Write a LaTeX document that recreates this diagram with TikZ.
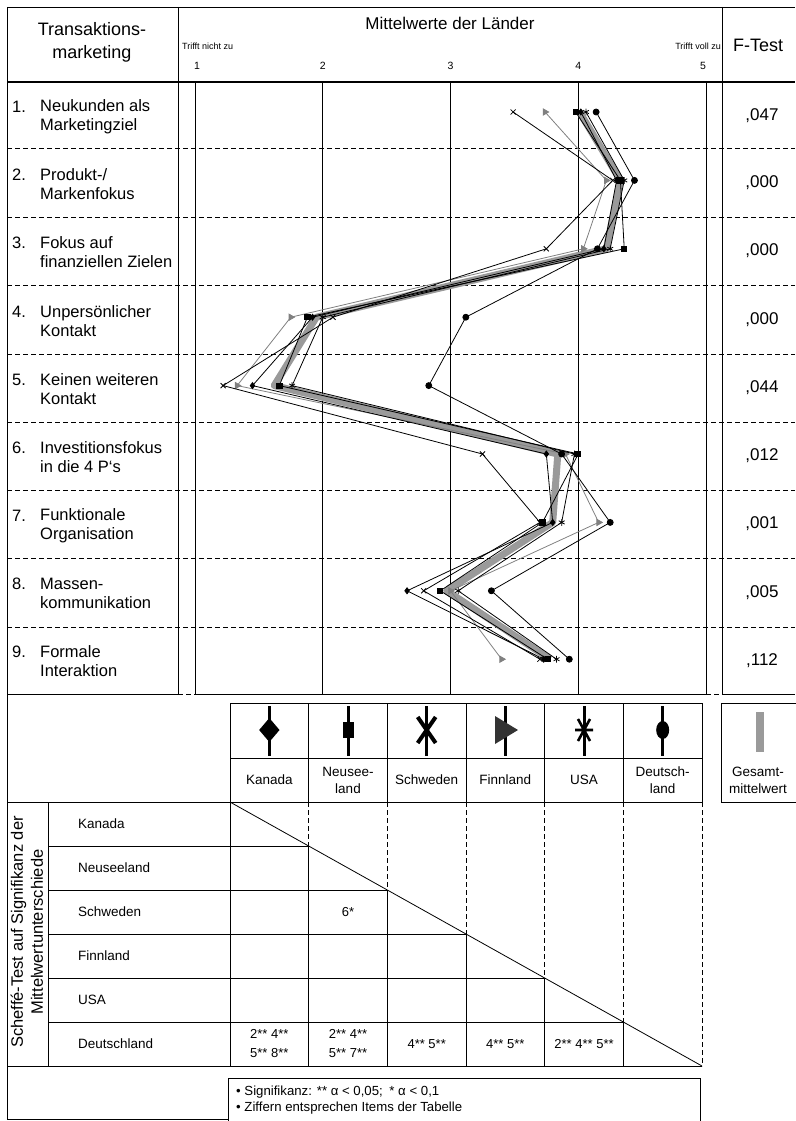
\documentclass[tikz,border=0pt]{standalone}
\usepackage{fontspec}
\setmainfont{Liberation Sans}
\usetikzlibrary{positioning,plotmarks}
\definecolor{colorBand}{HTML}{9A9A9A}
\definecolor{colorFin}{HTML}{808080}

\tikzset{
  frame/.style={line width=0.9pt},
  rowsep/.style={line width=0.9pt, dash pattern=on 5pt off 3pt},
  colsep/.style={line width=0.7pt, dash pattern=on 5pt off 3pt},
  itemtext/.style={anchor=west, align=left, inner sep=0pt, font=\fontsize{16.5}{19}\selectfont},
  itemnum/.style={anchor=west, inner sep=0pt, font=\fontsize{16.5}{19}\selectfont},
  ftest/.style={inner sep=0pt, font=\fontsize{17}{20}\selectfont},
  legtext/.style={align=center, inner sep=0pt, font=\fontsize{13.5}{17}\selectfont},
  rowname/.style={anchor=west, inner sep=0pt, font=\fontsize{13.5}{16}\selectfont},
  celltext/.style={align=center, inner sep=0pt, font=\fontsize{13}{19}\selectfont},
  legline/.style={line width=3pt},
  cline/.style={line width=0.8pt, mark options={solid, fill=black}},
  bandline/.style={line width=7pt, colorBand, line join=round}
}

\begin{document}
\begin{tikzpicture}[x=1pt, y=-1pt]
\useasboundingbox (0,0) rectangle (795,1121);

% header
\draw[frame] (7,7) -- (795,7);
\draw[line width=1.4pt] (7,82) -- (795,82);
\draw[frame] (178,7) -- (178,82);
\draw[frame] (722,7) -- (722,82);
\node[align=center, font=\fontsize{18}{23}\selectfont] (head) at (92,42) {Transaktions-\\marketing};
\node[font=\fontsize{17}{20}\selectfont] (mittel) at (450,23) {Mittelwerte der Länder};
\node[anchor=west, inner sep=0pt, font=\fontsize{9}{10}\selectfont] (nicht) at (182,46) {Trifft nicht zu};
\node[anchor=east, inner sep=0pt, font=\fontsize{9}{10}\selectfont] (voll) at (721,46) {Trifft voll zu};
\foreach \v/\x in {1/197,2/322.75,3/450.5,4/578.25,5/703}
  \node[inner sep=0pt, font=\fontsize{10.5}{12}\selectfont] (tick\v) at (\x,66) {\v};
\node[font=\fontsize{18}{22}\selectfont] (ftitle) at (758,45) {F-Test};

% boxes of the item rows
\draw[frame] (7,7) -- (7,1119);
\draw[frame] (178,82) -- (178,694) -- (7,694);
\draw[frame] (195,82) rectangle (706,694);
\draw[frame] (722,82) -- (722,694) -- (795,694);
\draw[line width=0.7pt] (322.75,82) -- (322.75,694);
\draw[line width=0.7pt] (450.5,82) -- (450.5,694);
\draw[line width=0.7pt] (578.25,82) -- (578.25,694);
\foreach \y in {148,217,285,354,422,490,558,627}
  \draw[rowsep] (7,\y) -- (795,\y);
\draw[rowsep] (178,694) -- (195,694);
\draw[rowsep] (706,694) -- (722,694);

% items
\node[itemnum] (n1) at (12,107) {1.};
\node[itemtext] (i1) at (40,116.5) {Neukunden als\\Marketingziel};
\node[itemnum] (n2) at (12,175) {2.};
\node[itemtext] (i2) at (40,184.5) {Produkt-/\\Markenfokus};
\node[itemnum] (n3) at (12,243) {3.};
\node[itemtext] (i3) at (40,252.5) {Fokus auf\\finanziellen Zielen};
\node[itemnum] (n4) at (12,312) {4.};
\node[itemtext] (i4) at (40,321.5) {Unpersönlicher\\Kontakt};
\node[itemnum] (n5) at (12,380) {5.};
\node[itemtext] (i5) at (40,389.5) {Keinen weiteren\\Kontakt};
\node[itemnum] (n6) at (12,448) {6.};
\node[itemtext] (i6) at (40,457.5) {Investitionsfokus\\in die 4 P`s};
\node[itemnum] (n7) at (12,516) {7.};
\node[itemtext] (i7) at (40,525.5) {Funktionale\\Organisation};
\node[itemnum] (n8) at (12,584) {8.};
\node[itemtext] (i8) at (40,593.5) {Massen-\\kommunikation};
\node[itemnum] (n9) at (12,652) {9.};
\node[itemtext] (i9) at (40,661.5) {Formale\\Interaktion};

% F-Test values
\node[ftest] (f1) at (762,116) {,047};
\node[ftest] (f2) at (762,183) {,000};
\node[ftest] (f3) at (762,251) {,000};
\node[ftest] (f4) at (762,320) {,000};
\node[ftest] (f5) at (762,388) {,044};
\node[ftest] (f6) at (762,456) {,012};
\node[ftest] (f7) at (762,524) {,001};
\node[ftest] (f8) at (762,593) {,005};
\node[ftest] (f9) at (762,661) {,112};

% profile lines (value, item)
\begin{scope}[shift={(67.25,43.6)}, x=127.75pt, y=-68.4pt]
  \draw[bandline] plot coordinates {(4.01,1) (4.33,2) (4.22,3) (1.95,4) (1.62,5) (3.84,6) (3.80,7) (2.97,8) (3.78,9)};
  \draw[cline, colorFin] plot[mark=triangle*, mark size=3.6pt, mark options={rotate=-90, fill=colorFin}]
    coordinates {(3.74,1) (4.22,2) (4.04,3) (1.75,4) (1.33,5) (3.90,6) (4.16,7) (3.00,8) (3.40,9)};
  \draw[cline] plot[mark=diamond*, mark size=3pt]
    coordinates {(4.02,1) (4.30,2) (4.20,3) (1.92,4) (1.45,5) (3.75,6) (3.80,7) (2.66,8) (3.73,9)};
  \draw[cline] plot[mark=square*, mark size=2.6pt]
    coordinates {(3.98,1) (4.33,2) (4.36,3) (1.88,4) (1.66,5) (4.00,6) (3.72,7) (2.92,8) (3.76,9)};
  \draw[cline] plot[mark=x, mark size=3.6pt]
    coordinates {(3.49,1) (4.27,2) (3.75,3) (2.08,4) (1.22,5) (3.25,6) (3.70,7) (2.79,8) (3.70,9)};
  \draw[cline] plot[mark=asterisk, mark size=3.4pt]
    coordinates {(4.06,1) (4.36,2) (4.25,3) (2.00,4) (1.76,5) (3.97,6) (3.87,7) (3.06,8) (3.83,9)};
  \draw[cline] plot[mark=*, mark size=3pt]
    coordinates {(4.14,1) (4.44,2) (4.15,3) (3.12,4) (2.83,5) (3.87,6) (4.25,7) (3.32,8) (3.93,9)};
\end{scope}

% legend
\draw[frame] (230,703) rectangle (702,802);
\draw[frame] (230,758) -- (702,758);
\foreach \x in {308.67,387.33,466,544.67,623.33}
  \draw[frame] (\x,703) -- (\x,802);
\draw[frame] (800,703) -- (721,703) -- (721,802) -- (800,802);
\foreach \x in {269.33,348,426.67,505.33,584,662.67}
  \draw[legline] (\x,706) -- (\x,756);
\fill (269.33,718) -- (279.5,730) -- (269.33,742) -- (259.17,730) -- cycle;
\fill (342.5,722) rectangle (353.5,738);
\draw[line width=4pt] (417.67,717) -- (435.67,743) (435.67,717) -- (417.67,743);
\fill[black!80] (495,716) -- (518,730) -- (495,744) -- cycle;
\draw[line width=2.6pt] (578,719) -- (590,741) (590,719) -- (578,741) (575,730) -- (593,730);
\fill (662.67,730) ellipse (6.5pt and 9pt);
\fill[colorBand] (756,712) rectangle (764,752);
\node[legtext] (lk) at (269.33,780) {Kanada};
\node[legtext] (ln) at (348,780) {Neusee-\\land};
\node[legtext] (ls) at (426.67,780) {Schweden};
\node[legtext] (lf) at (505.33,780) {Finnland};
\node[legtext] (lu) at (584,780) {USA};
\node[legtext] (ld) at (662.67,780) {Deutsch-\\land};
\node[legtext] (lg) at (758,780) {Gesamt-\\mittelwert};

% Scheffe table
\draw[frame] (7,802) -- (230,802);
\draw[frame] (48,802) -- (48,1066);
\draw[frame] (230,802) -- (230,1066);
\draw[frame] (7,1066) -- (702,1066);
\draw[frame] (48,846) -- (308.67,846);
\draw[frame] (48,890) -- (387.33,890);
\draw[frame] (48,934) -- (466,934);
\draw[frame] (48,978) -- (544.67,978);
\draw[frame] (48,1022) -- (623.33,1022);
\draw[colsep] (308.67,802) -- (308.67,846);
\draw[colsep] (387.33,802) -- (387.33,890);
\draw[colsep] (466,802) -- (466,934);
\draw[colsep] (544.67,802) -- (544.67,978);
\draw[colsep] (623.33,802) -- (623.33,1022);
\draw[colsep] (702,802) -- (702,1066);
\draw[frame] (308.67,846) -- (308.67,1066);
\draw[frame] (387.33,890) -- (387.33,1066);
\draw[frame] (466,934) -- (466,1066);
\draw[frame] (544.67,978) -- (544.67,1066);
\draw[frame] (623.33,1022) -- (623.33,1066);
\draw[line width=0.8pt] (230,802) -- (702,1066);
\node[rotate=90, align=center, font=\fontsize{16.5}{20}\selectfont] (scheffe) at (27,932) {Scheffé-Test auf Signifikanz der\\Mittelwertunterschiede};
\node[rowname] (rk) at (78,824) {Kanada};
\node[rowname] (rn) at (78,868) {Neuseeland};
\node[rowname] (rs) at (78,912) {Schweden};
\node[rowname] (rf) at (78,956) {Finnland};
\node[rowname] (ru) at (78,1000) {USA};
\node[rowname] (rd) at (78,1044) {Deutschland};
\node[celltext] (c32) at (348,912) {6*};
\node[celltext] (c61) at (269.33,1044) {2** 4**\\5** 8**};
\node[celltext] (c62) at (348,1044) {2** 4**\\5** 7**};
\node[celltext] (c63) at (426.67,1044) {4** 5**};
\node[celltext] (c64) at (505.33,1044) {4** 5**};
\node[celltext] (c65) at (584,1044) {2** 4** 5**};

% note
\draw[frame] (7,1119) -- (228,1119);
\draw[frame] (228,1125) -- (228,1078) -- (700,1078) -- (700,1125);
\node[anchor=west, align=left, inner sep=0pt, font=\fontsize{13.2}{16}\selectfont] (note) at (236,1100) {• Signifikanz: ** α < 0,05;\enspace * α < 0,1\\• Ziffern entsprechen Items der Tabelle};
\end{tikzpicture}
\end{document}
